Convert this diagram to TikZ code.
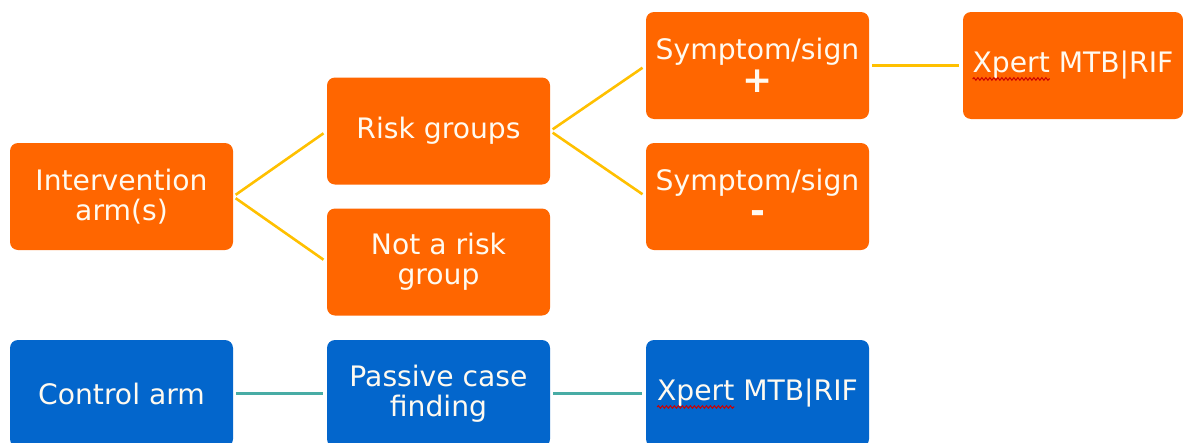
\documentclass[tikz,border=0pt]{standalone}
\usepackage{fontspec}
\setmainfont{DejaVu Sans}
\usepackage{tikz}
\usetikzlibrary{arrows.meta,positioning,calc,decorations.pathmorphing}
\usepackage{xcolor}
\definecolor{armorange}{RGB}{255,102,0}
\definecolor{armblue}{RGB}{3,102,204}
\definecolor{linkyellow}{RGB}{255,192,0}
\definecolor{linkteal}{RGB}{72,172,165}
\definecolor{boxtext}{RGB}{255,250,240}
\newcommand{\boxfont}{\fontsize{28.2}{30}\selectfont}
\tikzset{
  % step box of the flow
  armbox/.style={rectangle, rounded corners=8pt, fill=#1, minimum width=223pt, minimum height=107pt,
                 text=boxtext, align=center, font=\boxfont, inner sep=2pt},
  armbox/.default={armorange},
  % connector of the intervention arm
  ylink/.style={linkyellow, line width=2.6pt, shorten <=3pt, shorten >=4pt},
  % connector of the control arm
  tlink/.style={linkteal, line width=2.6pt, shorten <=3pt, shorten >=4pt},
  % spell-check wave under a word
  spellwave/.style={red!80!black, line width=1pt, decorate,
                    decoration={snake, amplitude=1.3pt, segment length=4pt}},
}
\newcommand{\signmark}[1]{\\[3pt]{\fontsize{36}{36}\selectfont\bfseries #1}}
\newlength{\xpword}
\newlength{\xpfull}

\begin{document}
\settowidth{\xpword}{\boxfont Xpert}%
\settowidth{\xpfull}{\boxfont Xpert MTB|RIF}%
\begin{tikzpicture}[x=1pt, y=-1pt]
  \useasboundingbox (0,0) rectangle (1183,442);

  % ── intervention arm(s) ──
  \node[armbox] (interv) at (121.5,196.5) {Intervention\\arm(s)};
  \node[armbox] (riskgrp) at (438.5,131) {Risk groups};
  \node[armbox] (norisk) at (438.5,262) {Not a risk\\group};
  \node[armbox] (sympos) at (757.5,65.5) {Symptom/sign\signmark{+}};
  \node[armbox] (symneg) at (757.5,196.5) {Symptom/sign\signmark{-}};
  \node[armbox, minimum width=220pt] (xpertA) at (1073,65.5) {Xpert MTB|RIF};
  \draw[spellwave] ($(xpertA.base)+(-0.5\xpfull,-6pt)$) -- ++(\xpword,0pt);

  \draw[ylink] (interv.east) -- (riskgrp.west);
  \draw[ylink] (interv.east) -- (norisk.west);
  \draw[ylink] (riskgrp.east) -- (sympos.west);
  \draw[ylink] (riskgrp.east) -- (symneg.west);
  \draw[ylink] (sympos.east) -- (xpertA.west);

  % ── control arm ──
  \node[armbox=armblue] (ctrl) at (121.5,393.5) {Control arm};
  \node[armbox=armblue] (passive) at (438.5,393.5) {Passive case\\finding};
  \node[armbox=armblue] (xpertB) at (757.5,393.5) {Xpert MTB|RIF};
  \draw[spellwave] ($(xpertB.base)+(-0.5\xpfull,-6pt)$) -- ++(\xpword,0pt);

  \draw[tlink] (ctrl.east) -- (passive.west);
  \draw[tlink] (passive.east) -- (xpertB.west);

\end{tikzpicture}
\end{document}
